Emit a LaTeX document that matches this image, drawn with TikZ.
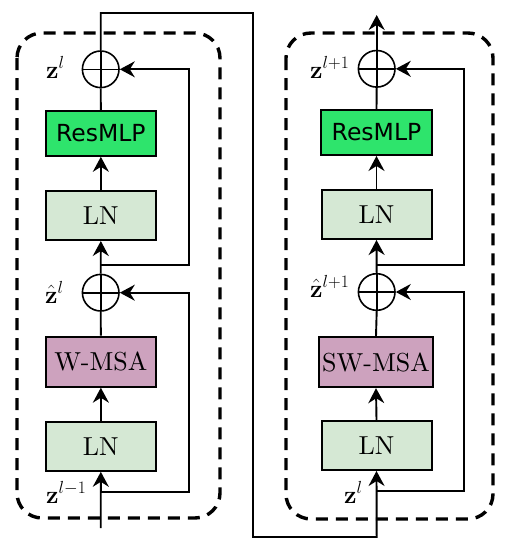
\documentclass[tikz,border=0pt]{standalone}
\usepackage{fix-cm}
\usepackage[no-math]{fontspec}
\newfontfamily\dejavu{DejaVu Sans}
\newfontfamily\lmten{lmroman10-regular.otf}
\usetikzlibrary{arrows.meta}
\definecolor{lngreen}{HTML}{D5E8D4}
\definecolor{mlpgreen}{HTML}{2EE46C}
\definecolor{msapurple}{HTML}{CDA2BE}
\tikzset{
 blk/.style={draw, line width=2pt, minimum width=110pt, minimum height=49pt, inner sep=0pt, font=\lmten\fontsize{26}{30}\selectfont},
 lnbox/.style={blk, fill=lngreen},
 mlpbox/.style={blk, fill=mlpgreen, minimum height=45pt, font=\dejavu\fontsize{23.5}{28}\selectfont},
 msabox/.style={blk, fill=msapurple, minimum height=50pt},
 addnode/.style={circle, draw, line width=1.6pt, minimum size=36.6pt, inner sep=0pt,
   path picture={\draw[line width=1.6pt] (path picture bounding box.north) -- (path picture bounding box.south) (path picture bounding box.west) -- (path picture bounding box.east);}},
 conn/.style={line width=1.9pt},
 arr/.style={conn, -{Stealth[length=15pt,width=16pt,inset=5pt]}},
 grp/.style={draw, line width=3.4pt, dash pattern=on 12pt off 8pt, rounded corners=25pt},
 lab/.style={font=\fontsize{25}{29}\selectfont, inner sep=0pt, anchor=base west}
}
\begin{document}
\begin{tikzpicture}[x=1pt,y=-1pt]
\useasboundingbox (0,0) rectangle (506,546);
% groups
\draw[grp] (17,33) rectangle (220,518);
\draw[grp] (286,33) rectangle (493,519);
% left block
\node[addnode] (addA1) at (100.7,69.3) {};
\node[mlpbox] (resA) at (100.85,133.3) {ResMLP};
\node[lnbox] (lnA2) at (100.85,215.5) {LN};
\node[addnode] (addA0) at (100.7,292.7) {};
\node[msabox] (msaA) at (100.85,361.7) {W-MSA};
\node[lnbox] (lnA1) at (100.85,446.3) {LN};
% right block
\node[addnode] (addB1) at (376.7,68.8) {};
\node[mlpbox, minimum width=111pt] (resB) at (376.5,132.5) {ResMLP};
\node[lnbox] (lnB2) at (376.5,214.5) {LN};
\node[addnode] (addB0) at (376.7,292) {};
\node[msabox, minimum width=114pt] (msaB) at (376,362.2) {SW-MSA};
\node[lnbox] (lnB1) at (376.5,445.5) {LN};
% labels
\node[lab] (lzA1) at (46,78) {$\mathbf{z}^{l}$};
\node[lab] (lzA0) at (45,303) {$\hat{\mathbf{z}}^{l}$};
\node[lab] (lzAin) at (46,503) {$\mathbf{z}^{l-1}$};
\node[lab] (lzB1) at (310,78) {$\mathbf{z}^{l+1}$};
\node[lab] (lzB0) at (310,297) {$\hat{\mathbf{z}}^{l+1}$};
\node[lab] (lzBin) at (344,503) {$\mathbf{z}^{l}$};
% coordinates
\coordinate (inA) at (100.7,528);
\coordinate (jA0) at (100.7,491.7);
\coordinate (jA1) at (100.7,265);
\coordinate (jB0) at (376.7,490.7);
\coordinate (jB1) at (376.7,265);
\coordinate (tl) at (100.7,13);
\coordinate (tr) at (253,13);
\coordinate (br) at (253,537);
\coordinate (bb) at (376.7,537);
\coordinate (out) at (376.7,15);
% left connectors
\draw[arr] (inA) -- (lnA1.south);
\draw[arr] (lnA1.north) -- (msaA.south);
\draw[conn] (msaA.north) -- (addA0.south);
\draw[arr] (addA0.north) -- (lnA2.south);
\draw[arr] (lnA2.north) -- (resA.south);
\draw[conn] (resA.north) -- (addA1.south);
\draw[arr] (jA0) -- ++(88.6,0) |- (addA0.east);
\draw[arr] (jA1) -- ++(88.6,0) |- (addA1.east);
% link
\draw[arr] (addA1.north) -- (tl) -- (tr) -- (br) -- (bb) -- (lnB1.south);
% right connectors
\draw[arr] (lnB1.north) -- (msaB.south);
\draw[conn] (msaB.north) -- (addB0.south);
\draw[arr] (addB0.north) -- (lnB2.south);
\draw[arr] (lnB2.north) -- (resB.south);
\draw[conn] (resB.north) -- (addB1.south);
\draw[arr] (jB0) -- ++(87.6,0) |- (addB0.east);
\draw[arr] (jB1) -- ++(87.6,0) |- (addB1.east);
\draw[arr] (addB1.north) -- (out);
\end{tikzpicture}
\end{document}
